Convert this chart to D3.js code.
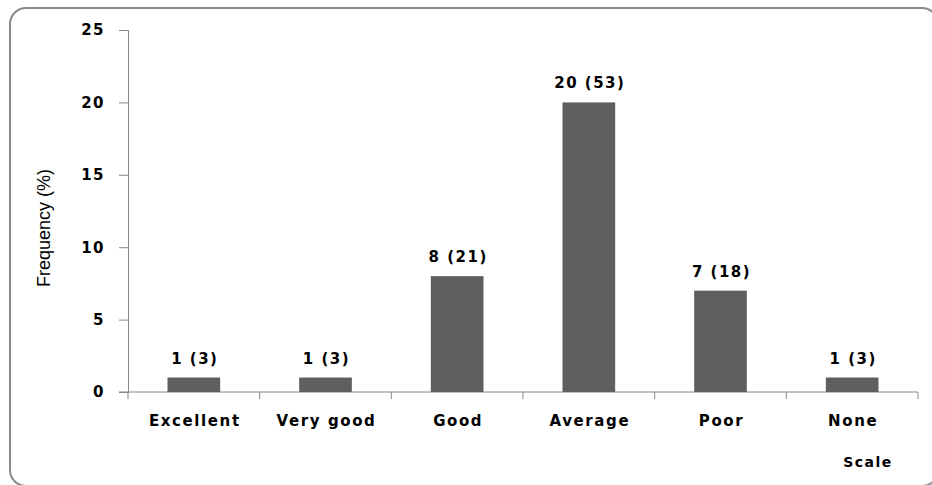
<!DOCTYPE html>
<html lang="en">
<head>
    <meta charset="UTF-8">
    <title>Frequency by scale</title>
    <style>
        body { margin: 0; background: #fff; }
        svg text { font-family: "DejaVu Sans", Verdana, sans-serif; fill: #000; }
    </style>
</head>
<body>
<div id="chart"></div>
<script src="https://cdn.jsdelivr.net/npm/d3@7"></script>
<script>
    const categories = ['Excellent', 'Very good', 'Good', 'Average', 'Poor', 'None']
    const counts = [1, 1, 8, 20, 7, 1]
    const percents = [3, 3, 21, 53, 18, 3]
    const yTicks = [0, 5, 10, 15, 20, 25]

    const width = 932, height = 485
    const m = {top: 30, right: 14, bottom: 93, left: 128}

    const svg = d3.select('#chart').append('svg')
        .attr('width', width)
        .attr('height', height)

    // frame
    svg.append('rect')
        .attr('x', 10).attr('y', 8)
        .attr('width', 928).attr('height', 478)
        .attr('rx', 16)
        .attr('fill', 'none')
        .attr('stroke', '#8a8a8a')
        .attr('stroke-width', 2)

    const x = d3.scaleBand()
        .domain(categories)
        .range([m.left, width - m.right])
        .paddingInner(0.6)
        .paddingOuter(0.3)

    const y = d3.scaleLinear()
        .domain([0, 25])
        .range([height - m.bottom, m.top])

    const g = svg.append('g')

    // y axis
    const yAxis = g.append('g')
        .attr('transform', `translate(${m.left},0)`)
        .call(d3.axisLeft(y).tickValues(yTicks).tickSize(9).tickPadding(14))
    yAxis.selectAll('text')
        .style('font-size', '15px')
        .style('font-weight', 'bold')
        .style('letter-spacing', '1.5px')
    yAxis.select('.domain').attr('stroke', '#888')
    yAxis.selectAll('.tick line').attr('stroke', '#888')

    // x axis line + boundary ticks
    const x0 = m.left, x1 = width - m.right, yb = y(0)
    g.append('line')
        .attr('x1', x0 - 9).attr('x2', x1)
        .attr('y1', yb).attr('y2', yb)
        .attr('stroke', '#888')
    const step = x.step()
    d3.range(categories.length + 1).forEach(i => {
        g.append('line')
            .attr('x1', x0 + i * step).attr('x2', x0 + i * step)
            .attr('y1', yb).attr('y2', yb + 7)
            .attr('stroke', '#888')
    })

    // bars
    g.selectAll('rect.bar')
        .data(categories)
        .enter()
        .append('rect')
        .attr('class', 'bar')
        .attr('x', d => x(d))
        .attr('width', x.bandwidth())
        .attr('y', (d, i) => y(counts[i]))
        .attr('height', (d, i) => y(0) - y(counts[i]))
        .attr('fill', '#5f5f5f')

    // value labels
    g.selectAll('text.val')
        .data(categories)
        .enter()
        .append('text')
        .attr('class', 'val')
        .attr('x', d => x(d) + x.bandwidth() / 2 + 1)
        .attr('y', (d, i) => y(counts[i]) - 14)
        .attr('text-anchor', 'middle')
        .style('font-size', '15px')
        .style('font-weight', 'bold')
        .style('letter-spacing', '1.5px')
        .text((d, i) => counts[i] + ' (' + percents[i] + ')')

    // category labels
    g.selectAll('text.cat')
        .data(categories)
        .enter()
        .append('text')
        .attr('class', 'cat')
        .attr('x', d => x(d) + x.bandwidth() / 2 + 1)
        .attr('y', yb + 34)
        .attr('text-anchor', 'middle')
        .style('font-size', '15px')
        .style('font-weight', 'bold')
        .style('letter-spacing', '1.6px')
        .text(d => d)

    // axis titles
    svg.append('text')
        .attr('x', 868).attr('y', 467)
        .attr('text-anchor', 'middle')
        .style('font-size', '14px')
        .style('font-weight', 'bold')
        .style('letter-spacing', '1.5px')
        .text('Scale')

    svg.append('text')
        .attr('transform', 'translate(50,228) rotate(-90)')
        .attr('text-anchor', 'middle')
        .style('font-family', '"Liberation Sans Narrow", "Liberation Sans", sans-serif')
        .style('font-size', '18px')
        .text('Frequency (%)')
</script>
</body>
</html>
